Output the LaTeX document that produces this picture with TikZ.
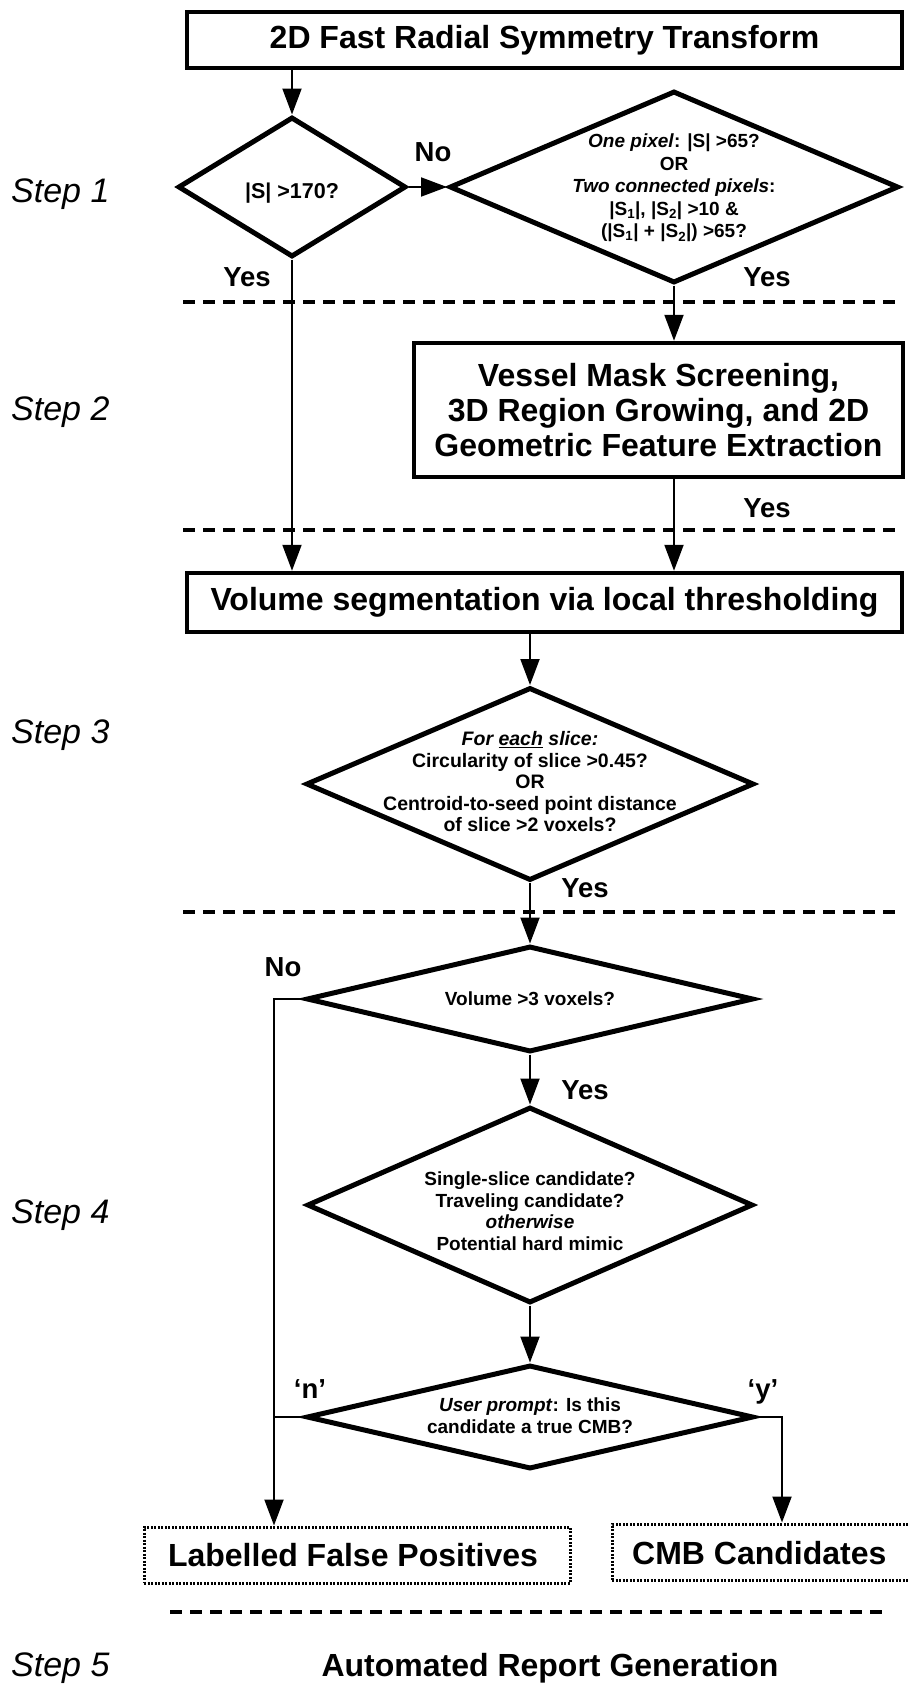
\documentclass[tikz,border=0pt]{standalone}
\usepackage{fontspec}
\setmainfont{Liberation Sans}
\usetikzlibrary{arrows.meta,shapes.geometric}
\begin{document}
\begin{tikzpicture}[x=1pt,y=-1pt,
  box/.style={draw,line width=4.5pt,inner sep=0pt,font=\bfseries\fontsize{32}{35}\selectfont,align=center},
  dia/.style={draw,diamond,line width=5pt,inner sep=0pt},
  dtext/.style={font=\bfseries\fontsize{19}{22}\selectfont,align=center,inner sep=0pt},
  lab/.style={font=\bfseries\fontsize{27.5}{30}\selectfont,inner sep=0pt},
  steplab/.style={font=\itshape\fontsize{34}{38}\selectfont,inner sep=0pt,anchor=west},
  sep/.style={line width=4.5pt,dash pattern=on 12pt off 8pt},
  conn/.style={line width=2pt,-{Triangle[length=26pt,width=19pt]}},
  plain/.style={line width=2pt},
  dotbox/.style={draw,line width=3pt,dash pattern=on 2pt off 1.5pt,inner sep=0pt},
  big/.style={font=\bfseries\fontsize{32}{35}\selectfont,inner sep=0pt}
]
\clip (0,0) rectangle (909,1686);
\fill[white] (0,0) rectangle (909,1686);

% step labels
\node[steplab] (s1) at (11,194) {Step 1};
\node[steplab] (s2) at (11,412) {Step 2};
\node[steplab] (s3) at (11,735) {Step 3};
\node[steplab] (s4) at (11,1215) {Step 4};
\node[steplab] (s5) at (11,1668) {Step 5};

% separators
\draw[sep] (183,302) -- (897,302);
\draw[sep] (183,530) -- (897,530);
\draw[sep] (183,912) -- (897,912);
\draw[sep] (170,1612) -- (882,1612);

% boxes
\node[box,minimum width=715pt,minimum height=56pt] (top) at (544.5,40) {2D Fast Radial Symmetry Transform};
\node[box,minimum width=489pt,minimum height=134pt] (box2) at (658.5,410) {Vessel Mask Screening,\\ 3D Region Growing, and 2D\\Geometric Feature Extraction};
\node[box,minimum width=715pt,minimum height=59pt] (box3) at (544.5,602.5) {Volume segmentation via local thresholding};

% diamonds
\node[dia,minimum width=228pt,minimum height=140pt] (d1) at (292,187) {};
\node[dtext,font=\bfseries\fontsize{21.5}{24}\selectfont] (d1t) at (292,193) {|S| >170?};

\node[dia,minimum width=449pt,minimum height=192pt] (d2) at (674,187) {};
\node[dtext,font=\bfseries\fontsize{19}{22.5}\selectfont] (d2t) at (674,188) {\textit{One pixel}: |S| >65?\\OR\\\textit{Two connected pixels}:\\|S\textsubscript{1}|, |S\textsubscript{2}| >10 \&\\(|S\textsubscript{1}| + |S\textsubscript{2}|) >65?};

\node[dia,minimum width=448pt,minimum height=193pt] (d3) at (530,784) {};
\node[dtext,font=\bfseries\fontsize{19.5}{21.5}\selectfont] (d3t) at (530,782) {\textit{For \underline{each} slice:}\\Circularity of slice >0.45?\\OR\\Centroid-to-seed point distance\\of slice >2 voxels?};

\node[dia,minimum width=447pt,minimum height=106pt] (d4) at (530,999) {};
\node[dtext] (d4t) at (530,999) {Volume >3 voxels?};

\node[dia,minimum width=446pt,minimum height=196pt] (d5) at (530,1205) {};
\node[dtext,font=\bfseries\fontsize{19}{21.5}\selectfont] (d5t) at (530,1211) {Single-slice candidate?\\Traveling candidate?\\\textit{otherwise}\\Potential hard mimic};

\node[dia,minimum width=447pt,minimum height=104pt] (d6) at (530,1417) {};
\node[dtext] (d6t) at (530,1416) {\textit{User prompt}: Is this\\candidate a true CMB?};

% output boxes
\node[dotbox,minimum width=426pt,minimum height=56pt] (lfp) at (357,1555) {};
\node[big] (lfpt) at (353,1555) {Labelled False Positives};
\node[dotbox,minimum width=330pt,minimum height=56pt] (cmb) at (777,1552) {};
\node[big,anchor=west] (cmbt) at (632,1553) {CMB Candidates};

\node[big] (report) at (550,1668) {Automated Report Generation};

% labels
\node[lab] (no1) at (433,152) {No};
\node[lab] (yes1) at (247,277) {Yes};
\node[lab] (yes2) at (767,277) {Yes};
\node[lab] (yes3) at (767,508) {Yes};
\node[lab] (yes4) at (585,888) {Yes};
\node[lab] (no2) at (283,967) {No};
\node[lab] (yes5) at (585,1090) {Yes};
\node[lab] (nq) at (310,1389) {‘n’};
\node[lab] (yq) at (763,1392) {‘y’};

% connectors
\coordinate (lx) at (274,999);
\coordinate (rx) at (782,1417);
\draw[conn] (top.south -| d1.north) -- (d1.north);
\draw[conn] (d1.east) -- (d2.west);
\draw[conn] (d1.south) -- (d1.south |- box3.north);
\draw[conn] (d2.south) -- (d2.south |- box2.north);
\draw[conn] (d2.south |- box2.south) -- (d2.south |- box3.north);
\draw[conn] (box3.south -| d3.north) -- (d3.north);
\draw[conn] (d3.south) -- (d4.north);
\draw[conn] (d4.south) -- (d5.north);
\draw[conn] (d5.south) -- (d6.north);
\draw[conn] (d4.west) -- (lx) -- (lx |- lfp.north);
\draw[plain] (d6.west) -- (lx |- d6.west);
\draw[conn] (d6.east) -- (rx) -- (rx |- cmb.north);
\end{tikzpicture}
\end{document}
